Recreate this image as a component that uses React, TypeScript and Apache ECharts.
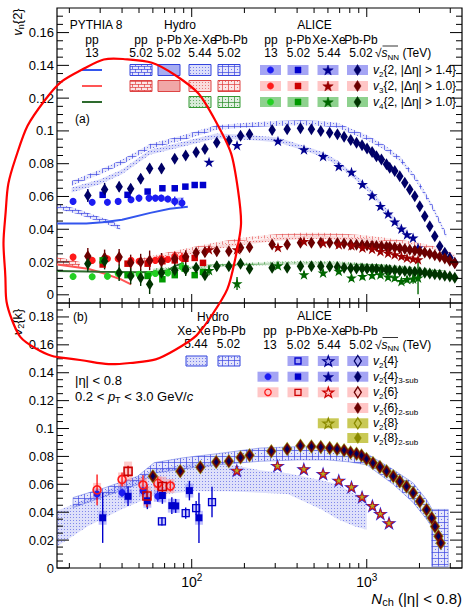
import React, { useEffect, useRef } from 'react';
import * as echarts from 'echarts';

// ---------------- axes ----------------
const X_MIN = 17;
const X_MAX = 3500;
const TOP_MIN = -0.005;
const TOP_MAX = 0.175;
const BOT_MIN = 0;
const BOT_MAX = 0.19;
const X_MAJOR = [100, 1000];
const X_MINOR = [20, 30, 40, 50, 60, 70, 80, 90, 200, 300, 400, 500, 600, 700, 800, 900, 2000, 3000];

// ---------------- panel (a): PYTHIA 8, pp 13 TeV ----------------
const pyV2N = [17, 25, 31, 40, 58, 75, 95];
const pyV2 = [0.0435, 0.0435, 0.0443, 0.0458, 0.05, 0.0525, 0.0537];
const pyV3N = [17, 25.5, 32, 39.7, 45];
const pyV3 = [0.0185, 0.0159, 0.0128, 0.0093, 0.0063];
const pyV4N = [17, 30, 50, 65, 73, 80, 90];
const pyV4 = [0.0145, 0.014, 0.0138, 0.014, 0.0148, 0.0175, 0.0195];

// ---------------- panel (a): ALICE ----------------
const ppN = [21, 27, 33, 38, 45, 50, 57, 62, 67, 73, 80, 88];
const ppV2 = [0.057, 0.0565, 0.0565, 0.057, 0.058, 0.059, 0.059, 0.059, 0.059, 0.0585, 0.057, 0.056];
const ppV3 = [0.023, 0.021, 0.022, 0.022, 0.021, 0.0205, 0.0205, 0.021, 0.022, 0.0215, 0.0235, 0.0225];
const ppV4 = [0.0112, 0.011, 0.0113, 0.013, 0.012, 0.0125, 0.0125, 0.013, 0.0134, 0.0134, 0.015, 0.017];

const pPbN = [31, 43, 56, 68, 80, 92, 104, 116];
const pPbV2 = [0.061, 0.061, 0.063, 0.065, 0.065, 0.066, 0.067, 0.067];
const pPbV3 = [0.0185, 0.019, 0.019, 0.0205, 0.021, 0.022, 0.0225, 0.0195];
const pPbV4 = [0.021, 0.012, 0.0115, 0.0095, 0.012, 0.016, 0.012, 0.014];

const xeN = [125.6, 181.5, 311, 438, 563, 692, 818, 945, 1073, 1197, 1324, 1445, 1578, 1698, 1839, 1963];
const xeV2 = [0.081, 0.0912, 0.0938, 0.0887, 0.0846, 0.0785, 0.0749, 0.0674, 0.0606, 0.0541, 0.0495, 0.0446, 0.0403, 0.0368, 0.0348, 0.0287];
const xeV3 = [0.0277, 0.0277, 0.029, 0.0327, 0.0318, 0.0307, 0.0301, 0.0287, 0.028, 0.0266, 0.0255, 0.0246, 0.0236, 0.0226, 0.022, 0.0216];
const xeV4 = [0.015, 0.0069, 0.0179, 0.0124, 0.0134, 0.0145, 0.0104, 0.0114, 0.012, 0.0124, 0.011, 0.0105, 0.0083, 0.0095, 0.0098, 0.0104];
const xeV4Err = [0.003, 0.004, 0.002, 0.002, 0.002, 0.002, 0.002, 0.002, 0.002, 0.002, 0.002, 0.002, 0.002, 0.002, 0.003, 0.01];

const pbN = [25.5, 31.8, 38.5, 44.8, 51.1, 57.5, 67.2, 80, 92.4, 106, 119, 139, 163, 190, 214, 288, 351, 418, 483, 546,
  614, 680, 742, 810, 874, 940, 1004, 1073, 1136, 1213, 1296, 1353, 1445, 1544, 1649, 1761, 1881, 2009, 2145, 2291,
  2447, 2613, 2791, 2981, 3184];
const pbV2 = [0.0606, 0.0643, 0.066, 0.0647, 0.0708, 0.077, 0.077, 0.083, 0.085, 0.087, 0.089, 0.093, 0.094, 0.097, 0.098,
  0.1005, 0.101, 0.1016, 0.101, 0.0999, 0.0989, 0.0979, 0.0965, 0.0944, 0.0928, 0.0912, 0.0892, 0.0871, 0.0846, 0.0826,
  0.0796, 0.0776, 0.0755, 0.0724, 0.0684, 0.0643, 0.0602, 0.0541, 0.048, 0.0419, 0.0358, 0.0297, 0.0256, 0.0226, 0.0195];
const pbV3 = [0.0236, 0.0226, 0.023, 0.0195, 0.02, 0.021, 0.0205, 0.022, 0.0232, 0.0256, 0.026, 0.0266, 0.0266, 0.0287, 0.029,
  0.0307, 0.0307, 0.0318, 0.0318, 0.0318, 0.0318, 0.0316, 0.0313, 0.0307, 0.0306, 0.0304, 0.0302, 0.03, 0.0298, 0.0296,
  0.0293, 0.0291, 0.0288, 0.0284, 0.028, 0.0275, 0.027, 0.0264, 0.0258, 0.025, 0.0242, 0.0232, 0.0222, 0.0208, 0.0192];
const pbV4 = [0.019, 0.0205, 0.0134, 0.0114, 0.0104, 0.0065, 0.0134, 0.015, 0.0155, 0.0165, 0.012, 0.0175, 0.0175, 0.019, 0.0159,
  0.0165, 0.0165, 0.0175, 0.0175, 0.0175, 0.0172, 0.0169, 0.0165, 0.0162, 0.0161, 0.016, 0.0159, 0.0158, 0.0157, 0.0155,
  0.0153, 0.0151, 0.015, 0.0147, 0.0145, 0.0142, 0.014, 0.0137, 0.0134, 0.013, 0.0126, 0.0122, 0.0117, 0.0111, 0.0104];
// statistical errors of the first (low-multiplicity) Pb-Pb points
const pbErrV2 = [0.004, 0.004, 0.003, 0.003, 0.003, 0.003, 0.003, 0.002, 0.002, 0.002, 0.002, 0.002];
const pbErrV34 = [0.005, 0.005, 0.005, 0.005, 0.005, 0.006, 0.005, 0.004, 0.004, 0.003, 0.003, 0.003];
const ppErr = [0.002, 0.002, 0.002, 0.002, 0.002, 0.002, 0.002, 0.002, 0.002, 0.002, 0.003, 0.003];

// ---------------- panel (a): hydro bands (centres) ----------------
const hPbV2N = [20.6, 30, 40, 57.6, 90, 138, 214, 300, 420, 550, 680, 810, 1000, 1240, 1560, 1930, 2360, 2850];
const hPbV2 = [0.068, 0.075, 0.081, 0.0905, 0.096, 0.102, 0.1037, 0.1045, 0.105, 0.1045, 0.1035, 0.1, 0.096, 0.0905, 0.0826, 0.07, 0.054, 0.036];
const hXeV2N = [20.6, 30, 40, 57.6, 90, 138, 214, 311, 438, 563, 692, 818, 950, 1073, 1200, 1324, 1450, 1580, 1700];
const hXeV2 = [0.064, 0.069, 0.075, 0.087, 0.092, 0.097, 0.096, 0.0945, 0.0895, 0.0855, 0.08, 0.0735, 0.068, 0.062, 0.0555, 0.05, 0.0455, 0.041, 0.037];
const hPpV2N = [17, 22, 28, 34, 39];
const hPpV2 = [0.054, 0.051, 0.047, 0.044, 0.041];
const hPPbV2N = [68, 80, 90];
const hPPbV2Lo = [0.0575, 0.0555, 0.0535];
const hPPbV2Hi = [0.0585, 0.059, 0.0595];
const hPbV3N = [50, 70, 100, 138, 214, 300, 420, 550, 680, 810, 1000, 1240, 1560, 1930, 2360, 2850, 3200];
const hPbV3 = [0.021, 0.0245, 0.028, 0.031, 0.0345, 0.036, 0.0368, 0.0368, 0.0365, 0.036, 0.0352, 0.034, 0.0325, 0.031, 0.029, 0.026, 0.0236];
const hXeV3N = [60, 90, 138, 214, 311, 438, 563, 692, 818, 1073, 1324, 1700];
const hXeV3 = [0.022, 0.025, 0.029, 0.032, 0.034, 0.035, 0.035, 0.0345, 0.034, 0.033, 0.031, 0.029];
const hPpV3N = [17, 20, 23];
const hPpV3 = [0.021, 0.0195, 0.018];
const hPbV4N = [60, 90, 138, 214, 300, 420, 550, 680, 810, 1000, 1240, 1560, 1930, 2360, 2850];
const hPbV4 = [0.0155, 0.0165, 0.018, 0.019, 0.0195, 0.0198, 0.0198, 0.0196, 0.0192, 0.0185, 0.0178, 0.017, 0.016, 0.015, 0.014];
const hXeV4N = [60, 90, 138, 214, 311, 438, 563, 692, 818, 1073, 1324, 1700];
const hXeV4 = [0.015, 0.016, 0.0175, 0.0185, 0.019, 0.019, 0.019, 0.0188, 0.0185, 0.018, 0.0172, 0.0165];
const W_V2 = 0.003;
const W_V3 = 0.002;
const W_V4 = 0.0015;

// ---------------- panel (b): ALICE v2{k} ----------------
const pbK = [60, 86, 112, 138, 163, 190, 214, 285, 351, 418, 483, 546, 614, 677, 742, 808, 874, 933, 996, 1085, 1189,
  1297, 1418, 1544, 1687, 1841, 2009, 2196, 2350, 2454, 2566, 2646];
const pbV24 = [0.0657, 0.0693, 0.0722, 0.076, 0.0765, 0.0793, 0.0808, 0.0837, 0.0854, 0.0877, 0.0872, 0.0868, 0.0861, 0.0854,
  0.0844, 0.0829, 0.082, 0.0806, 0.0782, 0.0753, 0.0725, 0.0693, 0.0657, 0.0621, 0.0585, 0.0538, 0.0478, 0.0418, 0.0359,
  0.0298, 0.0227, 0.0179];
const xeK = [181, 309, 437, 563, 692, 818, 940, 1077, 1197, 1340];
const xeV24 = [0.07, 0.0734, 0.071, 0.0676, 0.0628, 0.0581, 0.051, 0.0447, 0.039, 0.0323];

const pp43N = [28.8, 40, 52.7, 64];
const pp43V = [0.053, 0.054, 0.0553, 0.0515];
const pp43E = [0.004, 0.003, 0.003, 0.004];
const pp6N = [28.8, 40, 52.7, 64, 75.5];
const pp6V = [0.056, 0.0635, 0.0595, 0.0607, 0.0588];
const pp6E = [0.011, 0.005, 0.007, 0.005, 0.004];
const pPb43N = [31, 43.3, 55.8, 68, 77, 81, 97, 110];
const pPb43V = [0.036, 0.0514, 0.0482, 0.052, 0.0447, 0.0445, 0.0555, 0.036];
const pPb43E = [0.018, 0.007, 0.006, 0.006, 0.006, 0.005, 0.007, 0.018];
const pPb4N = [67.6, 92.4, 106, 130.6];
const pPb4V = [0.0334, 0.0394, 0.043, 0.0473];
const pPb4E = [0.003, 0.004, 0.005, 0.011];
const pPb6N = [43.3, 55.5, 68];
const pPb6V = [0.0693, 0.0516, 0.0584];
const pPb6E = [0.004, 0.008, 0.004];

// ---------------- panel (b): hydro bands ----------------
const hPbKN = [21, 32, 49, 61, 89, 140, 245, 400, 600, 800, 1000, 1418, 1840, 2196, 2340, 2350, 2920];
const hPbKLo = [0.0433, 0.0514, 0.0598, 0.068, 0.071, 0.074, 0.0765, 0.0775, 0.0775, 0.076, 0.074, 0.06, 0.047, 0.035, 0.03, 0.001, 0.001];
const hPbKHi = [0.0505, 0.0576, 0.0657, 0.0755, 0.079, 0.082, 0.086, 0.087, 0.0865, 0.085, 0.082, 0.0705, 0.061, 0.049, 0.043, 0.042, 0.042];
const hXeKN = [17, 25.5, 39.6, 61, 100, 160, 245, 354, 551, 683, 850, 1000];
const hXeKLo = [0.0155, 0.03, 0.042, 0.052, 0.055, 0.055, 0.054, 0.053, 0.042, 0.035, 0.03, 0.0275];
const hXeKHi = [0.041, 0.05, 0.06, 0.0705, 0.075, 0.075, 0.07, 0.068, 0.063, 0.06, 0.053, 0.052];

// ---------------- styling ----------------
const FONT = "'Liberation Sans', Arial, Helvetica, sans-serif";
const C = {
  ppB: '#1c1cf2', pPbB: '#0000cc', xeB: '#000090', pbB: '#000066',
  ppR: '#ff1a1a', pPbR: '#cc0000', xeR: '#990000', pbR: '#6b0000',
  ppG: '#22d022', pPbG: '#009900', xeG: '#006600', pbG: '#003300',
};
const STAR = 'path://M50,0L61.2,34.5L97.6,34.5L68.2,55.9L79.4,90.5L50,69.1L20.6,90.5L31.8,55.9L2.4,34.5L38.8,34.5Z';

// fill patterns imitating the ROOT hatch styles
function pattern(kind: string, rgb: number[], a = 1): any {
  const [r, g, b] = rgb;
  const size = kind === 'cross' ? 6 : kind === 'brick' ? 6 : 3;
  const cv = document.createElement('canvas');
  cv.width = size;
  cv.height = size;
  const ctx = cv.getContext('2d') as CanvasRenderingContext2D;
  ctx.fillStyle = `rgba(${r},${g},${b},${0.13 * a})`;
  ctx.fillRect(0, 0, size, size);
  ctx.fillStyle = `rgba(${r},${g},${b},${0.7 * a})`;
  if (kind === 'cross') {
    ctx.fillRect(0, 0, size, 1);
    ctx.fillRect(0, 0, 1, size);
    ctx.fillRect(3, 3, 1, 1);
  } else if (kind === 'brick') {
    ctx.fillRect(0, 0, size, 1);
    ctx.fillRect(0, 0, 1, 3);
    ctx.fillRect(0, 3, size, 1);
    ctx.fillRect(3, 3, 1, 3);
  } else {
    ctx.fillStyle = `rgba(${r},${g},${b},${0.45 * a})`;
    ctx.fillRect(1, 1, 1, 1);
  }
  return { image: cv, repeat: 'repeat', imageWidth: size, imageHeight: size };
}

function sc(xi: number, N: number[], V: number[], symbol: string, size: any, color: string, filled = true, z = 4, bw = 1.3): any {
  return {
    type: 'scatter', xAxisIndex: xi, yAxisIndex: xi, z, silent: true,
    data: N.map((n, i) => [n, V[i]]), symbol, symbolSize: size, symbolKeepAspect: symbol.startsWith('path'),
    itemStyle: filled ? { color, opacity: 1 } : { color: 'rgba(255,255,255,0)', borderColor: color, borderWidth: bw, opacity: 1 },
    emphasis: { disabled: true },
  };
}

function errSeries(xi: number, N: number[], V: number[], E: number[], sys: number, color: string, boxColor: string, boxW = 8): any {
  return {
    type: 'custom', xAxisIndex: xi, yAxisIndex: xi, z: 3, silent: true, clip: true,
    data: E.map((e, i) => [N[i], V[i], e, sys]),
    encode: { x: 0, y: 1 },
    renderItem: (params: any, api: any) => {
      const n = api.value(0), v = api.value(1), e = api.value(2), s = api.value(3);
      const p = api.coord([n, v]);
      const ch: any[] = [];
      if (s > 0) {
        const a = api.coord([n, v + s]), b = api.coord([n, v - s]);
        ch.push({ type: 'rect', shape: { x: p[0] - boxW / 2, y: a[1], width: boxW, height: b[1] - a[1] }, style: { fill: boxColor } });
      }
      if (e > 0) {
        const a = api.coord([n, v + e]), b = api.coord([n, v - e]);
        ch.push({ type: 'line', shape: { x1: p[0], y1: a[1], x2: p[0], y2: b[1] }, style: { stroke: color, lineWidth: 1.4 } });
      }
      return { type: 'group', children: ch };
    },
  };
}

function band(xi: number, N: number[], lo: number[], hi: number[], fill: any, stroke = 'none', z = 1): any {
  return {
    type: 'custom', xAxisIndex: xi, yAxisIndex: xi, z, silent: true, clip: true,
    data: [[N[0], lo[0]]], encode: { x: 0, y: 1 },
    renderItem: (params: any, api: any) => {
      const pts: number[][] = [];
      for (let i = 0; i < N.length; i++) pts.push(api.coord([N[i], hi[i]]));
      for (let i = N.length - 1; i >= 0; i--) pts.push(api.coord([N[i], lo[i]]));
      return { type: 'polygon', shape: { points: pts }, style: { fill, stroke, lineWidth: 0.7 } };
    },
  };
}
function cband(xi: number, N: number[], V: number[], w: number, fill: any, stroke = 'none'): any {
  return band(xi, N, V.map((v) => v - w / 2), V.map((v) => v + w / 2), fill, stroke);
}

function line(xi: number, N: number[], V: number[], color: string): any {
  return {
    type: 'line', xAxisIndex: xi, yAxisIndex: xi, z: 2, silent: true, showSymbol: false, symbol: 'none',
    data: N.map((n, i) => [n, V[i]]), lineStyle: { color, width: 2 },
  };
}

// axis tick marks drawn on all four sides (ROOT style, pointing inwards)
function tickSeries(xi: number, yMin: number, yMax: number, yStep: number, nY: number): any {
  const d: number[][] = [];
  X_MAJOR.forEach((x) => { d.push([x, yMin, 0, 9]); d.push([x, yMax, 1, 9]); });
  X_MINOR.forEach((x) => { d.push([x, yMin, 0, 5]); d.push([x, yMax, 1, 5]); });
  for (let k = 0; k <= nY; k++) {
    const v = k * yStep;
    const L = k % 4 === 0 ? 12 : 6;
    d.push([X_MIN, v, 2, L]);
    d.push([X_MAX, v, 3, L]);
  }
  return {
    type: 'custom', xAxisIndex: xi, yAxisIndex: xi, z: 6, silent: true, clip: false,
    data: d, encode: { x: 0, y: 1 },
    renderItem: (params: any, api: any) => {
      const p = api.coord([api.value(0), api.value(1)]);
      const dir = api.value(2), L = api.value(3);
      const dx = dir === 2 ? L : dir === 3 ? -L : 0;
      const dy = dir === 0 ? -L : dir === 1 ? L : 0;
      return { type: 'line', shape: { x1: p[0], y1: p[1], x2: p[0] + dx, y2: p[1] + dy }, style: { stroke: '#000', lineWidth: 1 } };
    },
  };
}

// ---------------- graphic helpers ----------------
function rich(fs: number): any {
  const s = Math.round(fs * 0.7);
  return {
    i: { fontStyle: 'italic', fontSize: fs, fontFamily: FONT, lineHeight: fs + 4 },
    sub: { fontSize: s, fontFamily: FONT, lineHeight: s, padding: [Math.round(fs * 0.5), 0, 0, 0], verticalAlign: 'bottom' },
    sup: { fontSize: s, fontFamily: FONT, lineHeight: s, verticalAlign: 'top' },
  };
}
function T(text: string, x: number, y: number, align = 'center', fs = 12, extra: any = {}): any {
  return {
    type: 'text', x, y, z: 50, silent: true,
    style: { text, fill: '#000', fontSize: fs, fontFamily: FONT, align, verticalAlign: 'middle', lineHeight: fs + 4, rich: rich(fs) },
    ...extra,
  };
}
function starPts(cx: number, cy: number, R: number): number[][] {
  const p: number[][] = [];
  for (let k = 0; k < 10; k++) {
    const a = -Math.PI / 2 + (k * Math.PI) / 5;
    const r = k % 2 === 0 ? R : R * 0.4;
    p.push([cx + r * Math.cos(a), cy + r * Math.sin(a)]);
  }
  return p;
}
function gM(kind: string, cx: number, cy: number, color: string, filled = true): any {
  const style = filled ? { fill: color, stroke: color, lineWidth: 0.5 } : { fill: 'none', stroke: color, lineWidth: 1.3 };
  const base = { z: 52, silent: true, style };
  if (kind === 'circle') return { type: 'circle', shape: { cx, cy, r: 3.2 }, ...base };
  if (kind === 'square') return { type: 'rect', shape: { x: cx - 3, y: cy - 3, width: 6, height: 6 }, ...base };
  if (kind === 'star') return { type: 'polygon', shape: { points: starPts(cx, cy + 0.5, 5.5) }, ...base };
  return { type: 'polygon', shape: { points: [[cx, cy - 5.5], [cx + 3.5, cy], [cx, cy + 5.5], [cx - 3.5, cy]] }, ...base };
}
function gBox(cx: number, cy: number, w: number, h: number, fill: any, stroke = 'none'): any {
  return { type: 'rect', z: 51, silent: true, shape: { x: cx - w / 2, y: cy - h / 2, width: w, height: h }, style: { fill, stroke, lineWidth: 1 } };
}

const RGB_B = [60, 70, 225];
const RGB_R = [225, 60, 60];
const RGB_G = [40, 140, 40];

function buildGraphic(): any[] {
  const G: any[] = [];
  // ---- panel (a) legend ----
  G.push(T('PYTHIA 8', 96, 25), T('pp', 92, 39.5), T('13', 92, 53));
  G.push(T('Hydro', 180, 25));
  [['pp', '5.02', 141], ['p-Pb', '5.02', 169], ['Xe-Xe', '5.44', 200], ['Pb-Pb', '5.02', 231]].forEach((c: any) => {
    G.push(T(c[0], c[2], 39.5), T(c[1], c[2] - (c[0] === 'Pb-Pb' ? 2 : 0), 53));
  });
  G.push(T('ALICE', 314.5, 25));
  [['pp', '13', 271], ['p-Pb', '5.02', 298.5], ['Xe-Xe', '5.44', 329], ['Pb-Pb', '5.02', 361]].forEach((c: any) => {
    G.push(T(c[0], c[2], 39.5), T(c[1], c[2], 53));
  });
  G.push(T('√{i|s}{sub|NN} (TeV)', 375, 53, 'left'));
  G.push({ type: 'line', z: 50, silent: true, shape: { x1: 382.5, y1: 46, x2: 398, y2: 46 }, style: { stroke: '#000', lineWidth: 0.8 } });
  const rowsA = [70, 86, 102];
  const pyCol = ['#3355ee', '#ff5555', '#2e6b2e'];
  rowsA.forEach((y, r) => G.push({ type: 'line', z: 51, silent: true, shape: { x1: 82, y1: y, x2: 102, y2: y }, style: { stroke: pyCol[r], lineWidth: 2 } }));
  const rgbs = [RGB_B, RGB_R, RGB_G];
  const hs = ['#3344dd', '#dd4444', '#339933'];
  const hx = [141, 169, 200, 229];
  rowsA.forEach((y, r) => {
    const rgb = rgbs[r];
    const fills = [
      r < 2 ? pattern('brick', rgb) : null,
      r < 2 ? `rgba(${rgb[0]},${rgb[1]},${rgb[2]},0.45)` : null,
      pattern('dot', rgb, 1.4),
      pattern('cross', rgb),
    ];
    hx.forEach((x, c) => { if (fills[c]) G.push(gBox(x, y, 22, 11, fills[c], hs[r])); });
  });
  const ax = [270.5, 298, 328, 357.5];
  const kinds = ['circle', 'square', 'star', 'diamond'];
  const boxCol = ['#a4a4f4', '#ffc6c6', '#8ed18e'];
  const mCol = [[C.ppB, C.pPbB, C.xeB, C.pbB], [C.ppR, C.pPbR, C.xeR, C.pbR], [C.ppG, C.pPbG, C.xeG, C.pbG]];
  rowsA.forEach((y, r) => ax.forEach((x, c) => { G.push(gBox(x, y, 21, 10, boxCol[r])); G.push(gM(kinds[c], x, y, mCol[r][c])); }));
  G.push(T('{i|v}{sub|2}{2, |Δη| > 1.4}', 373, 70, 'left'));
  G.push(T('{i|v}{sub|3}{2, |Δη| > 1.0}', 373, 86, 'left'));
  G.push(T('{i|v}{sub|4}{2, |Δη| > 1.0}', 373, 102, 'left'));
  G.push(T('(a)', 75, 119, 'left', 12));

  // ---- panel (b) legend ----
  G.push(T('(b)', 73, 317, 'left', 12));
  G.push(T('Hydro', 213, 317));
  G.push(T('Xe-Xe', 194, 330.5), T('Pb-Pb', 229, 330.5), T('5.44', 196, 344), T('5.02', 228.5, 344));
  G.push(gBox(196.5, 361, 21, 10, pattern('dot', RGB_B, 1.4), '#3344dd'));
  G.push(gBox(229, 361, 22, 10, pattern('cross', RGB_B), '#3344dd'));
  G.push(T('ALICE', 314.5, 316));
  [['pp', '13', 270], ['p-Pb', '5.02', 298.5], ['Xe-Xe', '5.44', 329], ['Pb-Pb', '5.02', 361]].forEach((c: any) => {
    G.push(T(c[0], c[2], 330.5), T(c[1], c[2], 344.5));
  });
  G.push(T('√{i|s}{sub|NN} (TeV)', 375, 344.5, 'left'));
  G.push({ type: 'line', z: 50, silent: true, shape: { x1: 382.5, y1: 337.5, x2: 398, y2: 337.5 }, style: { stroke: '#000', lineWidth: 0.8 } });
  const bx = [268, 298, 328.3, 357.8];
  const rowsB = [361, 376.7, 392.3, 408, 423.3, 438];
  const BB = '#a4a4f4', BR = '#ffc6c6', BO = '#c9c955';
  // [row, col, kind, color, filled, boxColor]
  const entries: any[] = [
    [0, 1, 'square', C.pPbB, false, BB], [0, 2, 'star', C.xeB, false, BB], [0, 3, 'diamond', C.pbB, false, BB],
    [1, 0, 'circle', C.ppB, true, BB], [1, 1, 'square', C.pPbB, true, BB], [1, 2, 'star', C.xeB, true, BB], [1, 3, 'diamond', C.pbB, true, BB],
    [2, 0, 'circle', C.ppR, false, BR], [2, 1, 'square', C.pPbR, false, BR], [2, 2, 'star', C.pPbR, false, BR], [2, 3, 'diamond', C.pbR, false, BR],
    [3, 3, 'diamond', C.pbR, true, BR],
    [4, 2, 'star', '#8a8a00', false, BO], [4, 3, 'diamond', '#8a8a00', false, BO],
    [5, 3, 'diamond', '#8a8a00', true, BO],
  ];
  entries.forEach((e) => {
    G.push(gBox(bx[e[1]], rowsB[e[0]], 21, 10, e[5]));
    G.push(gM(e[2], bx[e[1]], rowsB[e[0]], e[3], e[4]));
  });
  const labB = ['{i|v}{sub|2}{4}', '{i|v}{sub|2}{4}{sub|3-sub}', '{i|v}{sub|2}{6}', '{i|v}{sub|2}{6}{sub|2-sub}', '{i|v}{sub|2}{8}', '{i|v}{sub|2}{8}{sub|2-sub}'];
  labB.forEach((l, i) => G.push(T(l, 373, rowsB[i], 'left')));
  G.push(T('|η| < 0.8', 75, 380, 'left', 13));
  G.push(T('0.2 < {i|p}{sub|T} < 3.0 GeV/{i|c}', 75, 396, 'left', 13));

  // ---- axis titles ----
  G.push(T('{i|v}{sub|n}{2}', 17, 22, 'center', 13, { rotation: Math.PI / 2 }));
  G.push(T('{i|v}{sub|2}{k}', 17, 322, 'center', 13, { rotation: Math.PI / 2 }));
  G.push(T('{i|N}{sub|ch} (|η| < 0.8)', 462, 598, 'right', 15));

  // ---- hand-drawn red annotation ----
  G.push({
    type: 'polygon', z: 100, silent: true,
    shape: {
      smooth: 0.5,
      points: [[123, 59], [175, 75], [215, 120], [238, 190], [235, 260], [212, 315], [175, 350], [130, 363], [80, 360],
        [35, 348], [12, 320], [5, 270], [5, 220], [15, 160], [45, 100], [85, 68]],
    },
    style: { fill: 'none', stroke: '#ff0000', lineWidth: 2.2 },
  });
  return G;
}

const yFmt = (v: number) => {
  const k = v / 0.02;
  const r = Math.round(k);
  return Math.abs(k - r) < 1e-6 && r >= 0 ? String((r * 2) / 100) : '';
};
const xFmt = (v: number) => {
  const l = Math.log10(v);
  const r = Math.round(l);
  return Math.abs(l - r) < 1e-6 && (r === 2 || r === 3) ? `{b|10}{s|${r}}` : '';
};

function buildOption(): any {
  const gridBase = { left: 57, right: 3, show: true, borderColor: '#000', borderWidth: 1.2, backgroundColor: 'rgba(0,0,0,0)', containLabel: false, outerBoundsMode: 'none' };
  const xBase = {
    type: 'log', logBase: 10, min: X_MIN, max: X_MAX,
    axisLine: { show: false }, axisTick: { show: false }, splitLine: { show: false }, minorTick: { show: false },
  };
  const yBase = {
    type: 'value', interval: 0.005,
    axisLine: { show: false }, axisTick: { show: false }, splitLine: { show: false },
    axisLabel: { formatter: yFmt, color: '#000', fontSize: 13, fontFamily: FONT, margin: 3 },
  };
  const series: any[] = [
    // ---- (a) hydro bands ----
    cband(0, hXeV2N, hXeV2, W_V2, pattern('dot', RGB_B, 1.5)),
    cband(0, hPbV2N, hPbV2, W_V2, pattern('cross', RGB_B)),
    cband(0, hPpV2N, hPpV2, W_V2, pattern('brick', RGB_B)),
    band(0, hPPbV2N, hPPbV2Lo, hPPbV2Hi, 'rgba(90,100,235,0.5)'),
    cband(0, hXeV3N, hXeV3, W_V3, pattern('dot', RGB_R, 1.5)),
    cband(0, hPbV3N, hPbV3, W_V3, pattern('cross', RGB_R, 0.8)),
    cband(0, hPpV3N, hPpV3, W_V3 * 2, pattern('brick', RGB_R)),
    cband(0, hXeV4N, hXeV4, W_V4, pattern('dot', RGB_G, 1.5)),
    cband(0, hPbV4N, hPbV4, W_V4, pattern('cross', RGB_G, 0.8)),
    // ---- (a) PYTHIA ----
    line(0, pyV2N, pyV2, '#3355ee'),
    line(0, pyV3N, pyV3, '#ff5555'),
    line(0, pyV4N, pyV4, '#2e6b2e'),
    // ---- (a) errors ----
    errSeries(0, ppN, ppV2, ppErr, 0, C.ppB, ''),
    errSeries(0, ppN, ppV3, ppErr, 0, C.ppR, ''),
    errSeries(0, ppN, ppV4, ppErr, 0, C.ppG, ''),
    errSeries(0, pbN, pbV2, pbErrV2, 0, C.pbB, ''),
    errSeries(0, pbN, pbV3, pbErrV34, 0, C.pbR, ''),
    errSeries(0, pbN, pbV4, pbErrV34, 0, C.pbG, ''),
    errSeries(0, xeN, xeV4, xeV4Err, 0, C.xeG, ''),
    // ---- (a) markers ----
    sc(0, ppN, ppV2, 'circle', 7, C.ppB), sc(0, pPbN, pPbV2, 'rect', 6.5, C.pPbB),
    sc(0, xeN, xeV2, STAR, 11, C.xeB), sc(0, pbN, pbV2, 'diamond', [7.5, 12], C.pbB),
    sc(0, ppN, ppV3, 'circle', 7, C.ppR), sc(0, pPbN, pPbV3, 'rect', 6.5, C.pPbR),
    sc(0, pbN, pbV3, 'diamond', [7.5, 12], C.pbR), sc(0, xeN, xeV3, STAR, 11, C.xeR),
    sc(0, ppN, ppV4, 'circle', 7, C.ppG), sc(0, pPbN, pPbV4, 'rect', 6.5, C.pPbG),
    sc(0, pbN, pbV4, 'diamond', [7.5, 12], C.pbG), sc(0, xeN, xeV4, STAR, 11, C.xeG),

    // ---- (b) hydro bands ----
    band(1, hXeKN, hXeKLo, hXeKHi, pattern('dot', RGB_B, 1.3)),
    band(1, hPbKN, hPbKLo, hPbKHi, pattern('cross', RGB_B), 'rgba(60,80,220,0.6)'),
    // ---- (b) errors + systematic boxes ----
    errSeries(1, pp43N, pp43V, pp43E, 0.004, C.ppB, 'rgba(110,110,250,0.45)'),
    errSeries(1, pPb43N, pPb43V, pPb43E, 0.005, C.pPbB, 'rgba(110,110,250,0.45)'),
    errSeries(1, pPb4N, pPb4V, pPb4E, 0.003, C.pPbB, 'rgba(110,110,250,0.35)'),
    errSeries(1, pp6N, pp6V, pp6E, 0.005, C.ppR, 'rgba(255,140,140,0.45)'),
    errSeries(1, pPb6N, pPb6V, pPb6E, 0.007, C.pPbR, 'rgba(255,140,140,0.45)'),
    // ---- (b) markers ----
    sc(1, pp43N, pp43V, 'circle', 7, C.ppB),
    sc(1, pPb43N, pPb43V, 'rect', 7, C.pPbB),
    sc(1, pPb4N, pPb4V, 'rect', 7, C.pPbB, false),
    sc(1, pp6N, pp6V, 'circle', 8, C.ppR, false, 4, 1.6),
    sc(1, pPb6N, pPb6V, 'rect', 8, C.pPbR, false, 4, 1.6),
    // Xe-Xe: v2{4} (blue), v2{6} (red), v2{8} (olive) overlap
    sc(1, xeK, xeV24, STAR, 15, '#2222dd'),
    sc(1, xeK, xeV24, STAR, 12, '#c81818'),
    sc(1, xeK, xeV24, STAR, 6, '#b0b020'),
    // Pb-Pb: v2{8} (olive), v2{6} (dark red), v2{4} (navy) overlap
    sc(1, pbK, pbV24, 'diamond', [10.5, 14.5], '#94941a'),
    sc(1, pbK, pbV24, 'diamond', [8.5, 12.5], '#700606'),
    sc(1, pbK, pbV24, 'diamond', [4.5, 7], '#00005a'),

    // ---- tick marks ----
    tickSeries(0, TOP_MIN, TOP_MAX, 0.005, 34),
    tickSeries(1, BOT_MIN, BOT_MAX, 0.005, 37),
  ];
  return {
    animation: false,
    textStyle: { fontFamily: FONT },
    grid: [
      { ...gridBase, top: 8, height: 295 },
      { ...gridBase, top: 303, height: 265 },
    ],
    xAxis: [
      { ...xBase, gridIndex: 0, axisLabel: { show: false } },
      {
        ...xBase, gridIndex: 1,
        axisLabel: {
          formatter: xFmt, color: '#000', margin: 4,
          rich: {
            b: { fontSize: 14, lineHeight: 20, fontFamily: FONT, color: '#000' },
            s: { fontSize: 10, lineHeight: 10, verticalAlign: 'top', fontFamily: FONT, color: '#000' },
          },
        },
      },
    ],
    yAxis: [
      { ...yBase, gridIndex: 0, min: TOP_MIN, max: TOP_MAX },
      { ...yBase, gridIndex: 1, min: BOT_MIN, max: BOT_MAX },
    ],
    series,
    graphic: buildGraphic(),
  };
}

export default function App() {
  const ref = useRef<HTMLDivElement>(null);
  useEffect(() => {
    if (!ref.current) return;
    const chart = echarts.init(ref.current, null, { renderer: 'svg' });
    chart.setOption(buildOption());
    return () => chart.dispose();
  }, []);
  return (
    <div
      ref={ref}
      style={{ position: 'fixed', left: 0, top: 0, width: 465, height: 608, background: '#fff' }}
    />
  );
}
